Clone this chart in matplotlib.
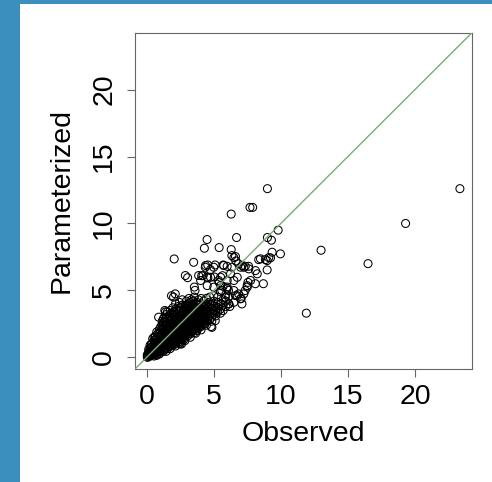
import matplotlib
matplotlib.use("Agg")
import matplotlib.pyplot as plt
from matplotlib.patches import Rectangle

plt.rcParams['font.family'] = ['Liberation Sans', 'DejaVu Sans']

# ---- data ----
# dense core, listed by observed-value column: (observed, [parameterized...])
core_cols = [
    (0.05, [0.0, 0.1, 0.2]),
    (0.15, [0.05, 0.2, 0.4, 0.6]),
    (0.25, [0.1, 0.25, 0.45, 0.7, 0.9]),
    (0.35, [0.15, 0.3, 0.5, 0.75, 1.0]),
    (0.45, [0.2, 0.35, 0.55, 0.8, 1.1, 1.4]),
    (0.55, [0.1, 0.3, 0.5, 0.7, 0.95, 1.25, 1.5]),
    (0.65, [0.2, 0.4, 0.6, 0.85, 1.1, 1.35, 1.6]),
    (0.75, [0.15, 0.35, 0.6, 0.8, 1.05, 1.35, 1.9]),
    (0.85, [0.3, 0.5, 0.75, 1.0, 1.2, 1.5, 1.8]),
    (0.95, [0.25, 0.45, 0.7, 0.9, 1.15, 1.4, 1.75, 2.1]),
    (1.05, [0.4, 0.6, 0.85, 1.05, 1.3, 1.6, 2.0, 2.3]),
    (1.15, [0.5, 0.75, 0.95, 1.2, 1.45, 1.8, 2.1, 2.4, 2.7]),
    (1.25, [0.45, 0.7, 0.9, 1.1, 1.35, 1.65, 2.0, 2.3, 2.6, 2.9]),
    (1.35, [0.6, 0.85, 1.05, 1.3, 1.55, 1.9, 2.3, 2.7, 3.0, 3.5]),
    (1.45, [0.45, 0.7, 0.95, 1.2, 1.45, 1.75, 2.1, 2.6, 2.9, 3.2]),
    (1.55, [0.65, 0.9, 1.15, 1.4, 1.6, 1.85, 2.2, 2.5, 2.8, 3.4]),
    (1.65, [0.8, 1.05, 1.3, 1.5, 1.75, 2.0, 2.4, 2.7, 3.1]),
    (1.75, [0.65, 0.9, 1.2, 1.45, 1.7, 1.95, 2.3, 2.7, 3.0, 3.5]),
    (1.85, [0.85, 1.1, 1.35, 1.6, 1.85, 2.1, 2.5, 2.8, 3.3]),
    (1.95, [1.0, 1.3, 1.55, 1.8, 2.05, 2.35, 2.6, 2.9, 3.2, 3.7]),
    (2.05, [0.95, 1.25, 1.5, 1.75, 2.0, 2.2, 2.55, 2.8, 3.0, 3.4]),
    (2.15, [0.85, 1.1, 1.4, 1.65, 1.9, 2.15, 2.4, 2.8, 3.1, 3.6, 4.0]),
    (2.25, [1.2, 1.45, 1.7, 2.0, 2.3, 2.6, 2.9, 3.2, 3.5]),
    (2.35, [1.1, 1.35, 1.6, 1.85, 2.1, 2.4, 2.75, 3.0, 3.8]),
    (2.45, [1.05, 1.3, 1.55, 1.8, 2.05, 2.3, 2.55, 2.9, 3.4, 3.7, 4.1]),
    (2.55, [1.2, 1.5, 1.75, 2.0, 2.25, 2.5, 2.8, 3.1, 3.5]),
    (2.65, [1.4, 1.65, 1.9, 2.15, 2.45, 2.7, 3.1, 3.4, 3.9, 4.3]),
    (2.75, [1.3, 1.6, 1.85, 2.1, 2.35, 2.6, 2.95, 3.3, 3.6]),
    (2.85, [1.25, 1.5, 1.8, 2.05, 2.3, 2.55, 2.85, 3.2, 3.5, 3.9]),
    (2.95, [1.7, 1.95, 2.2, 2.45, 2.7, 3.0, 3.4, 3.7, 4.2]),
    (3.05, [1.6, 1.9, 2.15, 2.4, 2.65, 2.9, 3.2, 3.5, 3.9]),
    (3.15, [1.8, 2.05, 2.3, 2.55, 2.8, 3.1, 3.5, 3.8, 4.0, 4.4]),
    (3.25, [1.5, 1.75, 2.0, 2.25, 2.5, 2.75, 3.0, 3.3, 3.6, 4.1]),
    (3.35, [1.9, 2.2, 2.45, 2.7, 2.95, 3.25, 3.6, 3.9, 4.3]),
    (3.45, [2.0, 2.3, 2.55, 2.8, 3.05, 3.4, 3.8, 4.2]),
    (3.55, [1.85, 2.15, 2.4, 2.65, 2.9, 3.2, 3.5, 3.8, 4.5]),
    (3.65, [1.8, 2.1, 2.35, 2.6, 2.85, 3.1, 3.35, 3.7, 4.0]),
    (3.75, [2.0, 2.25, 2.5, 2.75, 3.0, 3.3, 3.6, 4.1]),
    (3.85, [2.2, 2.45, 2.7, 2.95, 3.2, 3.5, 3.9, 4.3]),
    (3.95, [2.35, 2.6, 2.85, 3.1, 3.35, 3.7]),
    (4.05, [2.05, 2.3, 2.55, 2.8, 3.05, 3.3, 3.6, 4.0, 4.4]),
    (4.15, [2.45, 2.7, 2.95, 3.2, 3.5, 3.85]),
    (4.25, [2.6, 2.85, 3.1, 3.4, 3.7, 4.2]),
    (4.35, [2.5, 2.8, 3.05, 3.3, 3.6, 3.95]),
    (4.45, [2.4, 2.7, 3.0, 3.25, 3.55, 3.9, 4.4]),
    (4.55, [2.9, 3.2, 3.45, 3.75, 4.1]),
    (4.70, [2.8, 3.1, 3.4, 3.7, 4.0, 4.5]),
    (4.85, [2.7, 3.0, 3.35, 3.65, 3.95]),
    (5.00, [3.2, 3.5, 3.85, 4.2, 4.6]),
    (5.15, [3.1, 3.45, 3.8]),
    (5.30, [3.4, 3.7, 4.1, 4.5]),
    (5.50, [3.3, 3.6, 4.0, 4.9]),
    (5.70, [3.5, 3.9, 4.3, 5.3]),
    (5.90, [3.8, 4.2, 4.7]),
    (6.10, [4.0, 4.5, 5.0]),
]

# sparser fringe points
fringe_obs = [1.85, 2.0, 1.4, 3.05, 3.5, 3.55, 3.6, 4.1, 4.2, 4.5, 4.55, 4.75,
              4.39, 5.0, 5.75, 4.76, 5.51, 6.25, 6.0, 4.02, 4.51, 5.0, 5.51,
              6.0, 6.5, 6.5, 6.75, 5.05, 5.4, 5.65, 6.0, 5.1, 5.7, 6.0, 6.35,
              6.5, 6.65, 6.85, 7.0, 7.24, 7.61, 7.74, 7.49, 7.24, 6.99, 6.62,
              6.13, 6.5, 7.12, 6.62, 8.11, 8.24, 8.98, 8.48, 8.98, 9.23,
              8.7, 8.1, 7.55, 7.5, 7.05, 6.75, 6.2, 4.8, 2.6, 7.35, 7.6, 8.35,
              8.85, 9.1, 9.35, 9.97, 4.3, 5.4, 6.3, 4.5, 6.7, 2.05,
              2.13, 2.88, 3.87, 4.37, 6.85, 7.34, 7.1, 4.86, 5.11, 2.5, 4.56,
              5.36, 5.6, 5.86, 6.35, 0.89]
fringe_par = [4.6, 4.5, 3.4, 5.95, 7.1, 5.25, 5.0, 6.1, 6.1, 6.0, 6.9, 6.55,
              6.86, 6.73, 6.86, 5.98, 5.98, 6.24, 5.74, 5.74, 5.36, 5.24, 5.36,
              5.12, 4.99, 5.74, 5.98, 6.0, 5.6, 6.1, 5.25, 6.9, 6.9, 6.8, 7.6,
              7.45, 7.2, 6.98, 6.73, 6.73, 6.61, 5.74, 5.36, 4.74, 4.37, 4.61,
              3.99, 4.11, 6.86, 7.53, 6.48, 6.24, 6.53, 7.36, 7.23, 7.43,
              5.5, 5.5, 5.6, 5.25, 4.4, 4.6, 3.8, 2.3, 1.0, 6.8, 6.8, 7.3,
              7.3, 7.45, 7.85, 7.73, 8.15, 8.2, 8.05, 8.8, 8.95, 7.35,
              4.74, 6.11, 6.11, 6.73, 4.74, 4.99, 3.99, 2.24, 2.74, 1.0, 5.94,
              5.74, 4.99, 4.49, 6.73, 3.0]

# isolated outliers
outlier_obs = [23.35, 19.3, 16.5, 13.0, 11.9, 9.0, 7.7, 7.9, 6.3, 9.8, 9.0, 9.3]
outlier_par = [12.6, 10.0, 7.0, 8.0, 3.3, 12.6, 11.2, 11.2, 10.7, 9.5, 8.95, 8.75]

x_ticks = [0, 5, 10, 15, 20]
y_ticks = [0, 5, 10, 15, 20]
axis_range = (-0.85, 24.25)

core_obs = [c for c, ys in core_cols for _ in ys]
core_par = [y for _, ys in core_cols for y in ys]

# ---- figure ----
fig = plt.figure(figsize=(4.92, 4.82), dpi=100)
fig.patch.set_facecolor('white')
blue = '#3a8fbf'
fig.patches.append(Rectangle((0, 0), 20 / 492, 1, transform=fig.transFigure,
                             facecolor=blue, edgecolor='none', zorder=0))
fig.patches.append(Rectangle((0, 1 - 4 / 482), 1, 4 / 482, transform=fig.transFigure,
                             facecolor=blue, edgecolor='none', zorder=0))

ax = fig.add_axes([0.275, 0.235, 0.9593 - 0.275, 0.9322 - 0.235])

ms = 33
for xs, ys in [(core_obs, core_par), (fringe_obs, fringe_par), (outlier_obs, outlier_par)]:
    ax.scatter(xs, ys, s=ms, facecolors='none', edgecolors='black', linewidths=0.75, zorder=2)

ax.axline((0, 0), slope=1, color='#72b072', lw=1.0, zorder=3)

ax.set_xlim(*axis_range)
ax.set_ylim(*axis_range)
ax.set_xticks(x_ticks)
ax.set_yticks(y_ticks)
ax.set_xticklabels([str(t) for t in x_ticks])
ax.set_yticklabels([str(t) for t in y_ticks], rotation=90, va='center')

for s in ax.spines.values():
    s.set_color('#666666')
    s.set_linewidth(0.8)
ax.tick_params(axis='both', colors='#666666', labelcolor='black', length=6,
               width=0.8, labelsize=20.5)
ax.tick_params(axis='x', pad=5)
ax.tick_params(axis='y', pad=7)

ax.set_xlabel('Observed', fontsize=20.5, labelpad=8)
ax.set_ylabel('Parameterized', fontsize=20.5, labelpad=12)

fig.savefig('out.png', dpi=100)
